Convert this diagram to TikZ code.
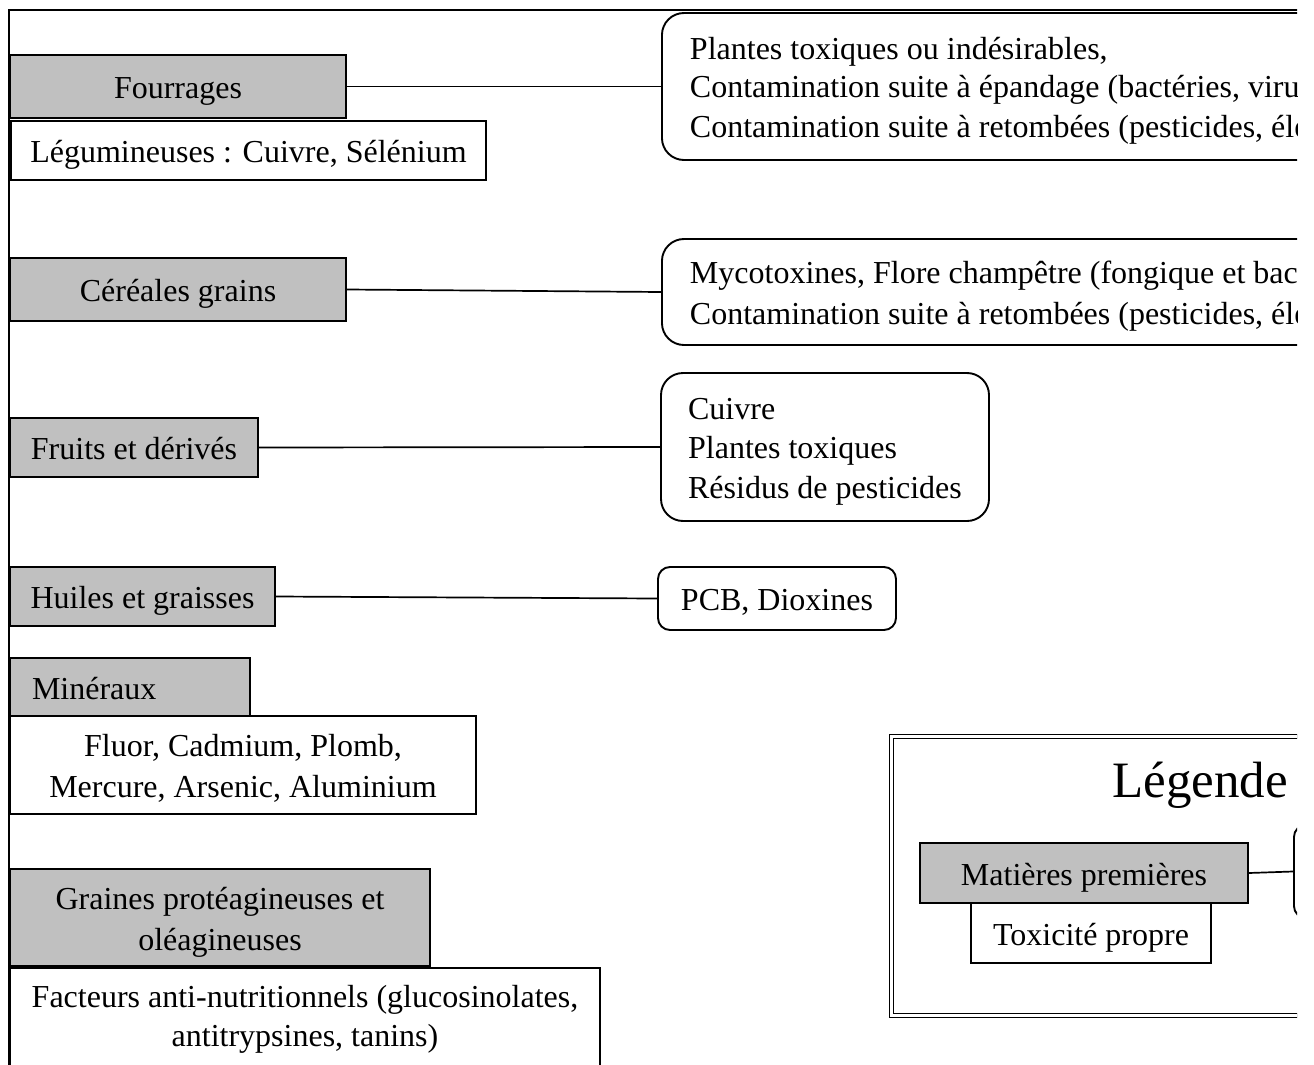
\documentclass[tikz,border=0pt]{standalone}
\usepackage{fontspec}
\setmainfont{Liberation Serif}
\definecolor{gfill}{HTML}{C0C0C0}
\newcommand\vs{\rule[-8pt]{0pt}{40pt}}
\begin{document}
\begin{tikzpicture}[x=1pt,y=-1pt,
  base/.style={draw=black, line width=1.9pt, inner sep=0pt, rectangle,
    font=\fontsize{32}{38.3}\selectfont},
  gbox/.style={base, fill=gfill},
  wbox/.style={base, fill=white},
  rbox/.style={base, fill=white, rounded corners=22pt},
  link/.style={draw=black, line width=1.7pt}]
\useasboundingbox (0,0) rectangle (1314,1065);
\begin{scope}
\clip (0,0) rectangle (1297,1065);
% outer frame
\draw[line width=2.4pt] (9,1080) -- (9,10) -- (1310,10);

% Fourrages
\node[gbox, minimum width=336pt, minimum height=63pt] (four) at (178,86.5) {\vs Fourrages};
\node[wbox, minimum width=475pt, minimum height=59pt] (legu) at (248.5,150.5) {\vs Légumineuses : Cuivre, Sélénium};
\node[rbox, anchor=west, minimum width=800pt, minimum height=147pt,
  text width=744pt, inner xsep=28pt, align=flush left] (b1) at (661,86.5)
  {\vs Plantes toxiques ou indésirables,\\
   Contamination suite à épandage (bactéries, virus\\
   Contamination suite à retombées (pesticides, éléments\vs};
\draw[link] (four.east) -- (b1.west);

% Cereales
\node[gbox, minimum width=336pt, minimum height=63pt] (cer) at (178,289.5) {\vs Céréales grains};
\node[rbox, anchor=west, minimum width=800pt, minimum height=106pt,
  text width=744pt, inner xsep=28pt, align=flush left] (b2) at (661,292)
  {\vs Mycotoxines, Flore champêtre (fongique et bactérienne)\\
   Contamination suite à retombées (pesticides, éléments\vs};
\draw[link] (cer.east) -- (b2.west);

% Fruits
\node[gbox, minimum width=248pt, minimum height=59pt] (fru) at (134,447.5) {\vs Fruits et dérivés};
\node[rbox, minimum width=328pt, minimum height=148pt, align=left] (b3) at (825,447)
  {\vs Cuivre\\ Plantes toxiques\\ Résidus de pesticides\vs};
\draw[link] (fru.east) -- (b3.west);

% Huiles
\node[gbox, minimum width=265pt, minimum height=59pt] (hui) at (142.5,596.5) {\vs Huiles et graisses};
\node[rbox, rounded corners=12pt, minimum width=238pt, minimum height=63pt] (b4) at (777,598.5) {\vs PCB, Dioxines};
\draw[link] (hui.east) -- (b4.west);

% Mineraux
\node[gbox, minimum width=240pt, minimum height=59pt, text width=196pt, inner xsep=22pt, align=flush left] (min) at (130,687.5) {\vs Minéraux};
\node[wbox, minimum width=466pt, minimum height=98pt, align=center] (mind) at (243,765)
  {\vs Fluor, Cadmium, Plomb,\\ Mercure, Arsenic, Aluminium\vs};

% Graines
\node[gbox, minimum width=420pt, minimum height=97pt, align=center] (gra) at (220,917.5)
  {\vs Graines protéagineuses et\\ oléagineuses\vs};
\node[wbox, anchor=north, minimum width=590pt, inner ysep=8pt, align=center] (fac) at (305,967)
  {\vs Facteurs anti-nutritionnels (glucosinolates,\\ antitrypsines, tanins)\rule[-30pt]{0pt}{0pt}};

% Legend
\draw[double, double distance=2.5pt, line width=1.2pt] (891.5,736.5) rectangle (1400,1015.5);
\node[font=\fontsize{51}{60}\selectfont, anchor=base, inner sep=0pt] (legt) at (1200,797) {Légende};
\node[gbox, minimum width=328pt, minimum height=60pt] (mp) at (1084,873) {\vs Matières premières};
\node[wbox, minimum width=240pt, minimum height=60pt] (tox) at (1091,933) {\vs Toxicité propre};
\node[rbox, rounded corners=12pt, anchor=west, minimum width=200pt, minimum height=93pt] (lb) at (1293,871.5) {};
\draw[link] (mp.east) -- (lb.west);
\end{scope}
\end{tikzpicture}
\end{document}
